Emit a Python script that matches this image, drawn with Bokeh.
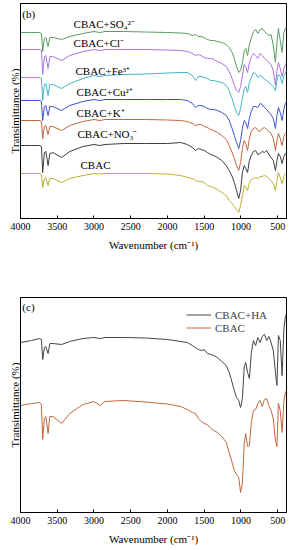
from bokeh.plotting import figure
from bokeh.layouts import column
from bokeh.models import Range1d, FixedTicker, Legend, LegendItem
from bokeh.core.properties import value
from bokeh.embed import file_html
from bokeh.resources import INLINE

# wavenumbers (cm-1)
wn = [4000, 3850, 3740, 3715, 3698, 3675, 3655, 3625, 3600, 3560,
      3440, 3330, 3150, 3000, 2920, 2850, 2600, 2300, 2000, 1820,
      1730, 1660, 1617, 1580, 1540, 1500, 1458, 1410, 1370, 1320,
      1260, 1200, 1160, 1120, 1090, 1060, 1030, 1005, 980, 955,
      935, 910, 885, 860, 830, 800, 770, 740, 710, 680,
      650, 620, 590, 560, 530, 510, 490, 465, 440, 415,
      395, 380]

# panel (b): transmittance (a.u., offset spectra)
t_so4 = [186, 186, 186, 185, 167, 180, 181, 172, 181, 181,
         179, 182, 185, 187, 186, 187, 187, 186.5, 186, 185.5,
         185, 183, 184, 182, 182, 181, 179, 178, 178, 177,
         176, 174, 171, 166, 160, 152, 146, 148, 156, 168,
         170, 163, 174, 180, 187, 189, 185, 189, 190, 187,
         185, 183, 184, 173, 156, 176, 190, 178, 166, 186,
         190, 191]
t_cl = [169, 169, 169, 168, 144, 162, 163, 150, 162, 162,
        158, 163, 167, 169, 168, 169, 169, 169, 168.5, 168,
        167, 165, 163, 164, 163, 161, 160, 160, 159, 157,
        155, 152, 147, 140, 133, 128, 126, 132, 143, 154,
        152, 146, 156, 161, 165, 163, 160, 165, 163, 160,
        158, 156, 154, 148, 133, 148, 156, 150, 142, 150,
        154, 156]
t_fe = [141, 141, 141, 140, 118, 134, 135, 123, 134, 134,
        130, 135, 140, 143, 142, 143, 144, 144.5, 145.5, 146,
        146, 143, 138, 142, 142, 141, 140, 138, 138, 137,
        136, 133, 128, 120, 112, 106, 103, 110, 120, 130,
        132, 126, 136, 141, 146, 145, 141, 143, 142, 139,
        138, 136, 134, 132, 128, 138, 144, 142, 135, 143,
        146, 148]
t_cu = [118, 118, 118, 117, 98, 112, 113, 103, 112, 112,
        108, 113, 117, 119, 118, 119, 119, 119, 119, 119,
        118, 115, 111, 113, 113, 112, 110, 109, 109, 108,
        106, 103, 98, 90, 83, 76, 70, 78, 90, 98,
        96, 90, 100, 107, 112, 112, 111, 115, 114, 111,
        109, 106, 104, 100, 90, 103, 111, 106, 98, 110,
        115, 117]
t_k = [98, 98, 98, 97, 80, 92, 93, 84, 92, 92,
       88, 93, 97, 99, 98, 99, 99, 99, 98.5, 98,
       97, 95, 93, 94, 94, 92, 91, 89, 88, 86,
       83, 79, 73, 66, 60, 53, 48, 56, 70, 78,
       75, 68, 80, 87, 90, 91, 88, 87, 90, 91,
       89, 87, 85, 80, 68, 78, 85, 80, 73, 82,
       85, 85]
t_no3 = [73, 73, 73, 72, 46, 66, 67, 53, 65, 66,
         61, 67, 72, 74, 73, 74, 75, 75, 75, 76,
         74, 71, 68, 70, 69, 68, 66, 64, 63, 61,
         58, 53, 48, 42, 36, 28, 20, 28, 46, 53,
         50, 46, 58, 63, 67, 68, 64, 65, 67, 66,
         68, 64, 61, 58, 48, 58, 65, 62, 55, 62,
         65, 65]
t_cbac = [45, 45, 45, 44, 31, 40, 41, 33, 40, 40,
          36, 40, 43, 45, 44.5, 45, 45, 45, 44.5, 43,
          41, 40, 38, 37, 37, 36, 33, 32, 31, 29,
          26, 23, 18, 15, 12, 9, 6, 13, 23, 33,
          31, 28, 36, 39, 40, 41, 40, 42, 42, 43,
          42, 40, 38, 35, 28, 38, 46, 41, 35, 42,
          45, 45]

# panel (c)
t_ha = [170, 172, 174, 173, 153, 165, 166, 159, 169, 169,
        168, 171, 174, 175, 174, 175, 175, 174.5, 173, 171,
        170, 167, 165, 163, 162, 163, 159, 158, 157, 155,
        151, 147, 140, 130, 122, 115, 112, 105, 114, 146,
        150, 140, 134, 159, 172, 167, 175, 170, 176, 178,
        172, 176, 170, 162, 140, 127, 177, 172, 137, 184,
        196, 199]
t_cbac2 = [107, 109, 110, 108, 73, 94, 96, 79, 96, 96,
           89, 99, 108, 111, 107, 111, 112, 110.5, 108.5, 106,
           103, 100, 99, 94, 91, 89, 88, 84, 82, 80,
           76, 70, 60, 50, 42, 38, 35, 20, 30, 69,
           79, 66, 67, 89, 102, 103, 109, 112, 106, 113,
           114, 107, 102, 94, 72, 66, 109, 102, 80, 112,
           120, 122]

x_ticks = [4000, 3500, 3000, 2500, 2000, 1500, 1000, 500]

series_b = [t_so4, t_cl, t_fe, t_cu, t_k, t_no3, t_cbac]
colors_b = ["#5b9b63", "#a774dd", "#45b5c8", "#3f51c9", "#c4653f", "#3d3d3d", "#b9b033"]
labels_b = ["CBAC+SO\u2084\u00b2\u207b", "CBAC+Cl\u207b", "CBAC+Fe\u00b3\u207a",
            "CBAC+Cu\u00b2\u207a", "CBAC+K\u207a", "CBAC+NO\u2083\u207b", "CBAC"]
label_x = [3278, 3278, 3251, 3237, 3237, 3224, 3183]
label_y = [195, 176, 148, 127, 106, 85, 54]

SERIF = "Liberation Serif"


def style(p, title_std, lab_std):
    p.xgrid.visible = False
    p.ygrid.visible = False
    p.outline_line_color = "black"
    p.outline_line_width = 1
    p.background_fill_color = "white"
    p.xaxis.ticker = FixedTicker(ticks=x_ticks)
    p.xaxis.major_tick_in = 3
    p.xaxis.major_tick_out = 0
    p.xaxis.minor_tick_line_color = None
    p.xaxis.axis_line_color = "black"
    p.xaxis.major_tick_line_color = "black"
    p.xaxis.major_label_text_font = SERIF
    p.xaxis.major_label_text_font_size = "10px"
    p.xaxis.major_label_text_color = "black"
    p.xaxis.major_label_standoff = lab_std
    p.xaxis.axis_label = "Wavenumber (cm\u207b\u00b9)"
    p.xaxis.axis_label_text_font = SERIF
    p.xaxis.axis_label_text_font_size = "11px"
    p.xaxis.axis_label_text_font_style = "normal"
    p.xaxis.axis_label_text_color = "black"
    p.xaxis.axis_label_standoff = title_std
    p.yaxis.ticker = FixedTicker(ticks=[])
    p.yaxis.major_tick_line_color = None
    p.yaxis.minor_tick_line_color = None
    p.yaxis.major_tick_out = 0
    p.yaxis.major_label_standoff = 0
    p.yaxis.axis_line_color = "black"
    p.yaxis.axis_label = "Transimittance (%)"
    p.yaxis.axis_label_text_font = SERIF
    p.yaxis.axis_label_text_font_size = "11px"
    p.yaxis.axis_label_text_font_style = "normal"
    p.yaxis.axis_label_text_color = "black"
    p.yaxis.axis_label_standoff = 0


p1 = figure(frame_width=266, frame_height=215, x_range=Range1d(4000, 380),
            y_range=Range1d(0, 215), output_backend="svg", toolbar_location=None,
            min_border_left=20, min_border_right=8, min_border_top=3,
            min_border_bottom=78)
style(p1, 6, 4)
for ys, c in zip(series_b, colors_b):
    p1.line(wn, ys, line_color=c, line_width=1)
p1.text(x=label_x, y=label_y, text=labels_b, text_font=value(SERIF),
        text_font_size="11px", text_baseline="middle", text_align="left",
        text_color="black")
p1.text(x=[3975], y=[204.5], text=["(b)"], text_font=value(SERIF),
        text_font_size="11px", text_baseline="middle", text_align="left",
        text_color="black")

p2 = figure(frame_width=266, frame_height=215, x_range=Range1d(4000, 380),
            y_range=Range1d(0, 215), output_backend="svg", toolbar_location=None,
            min_border_left=20, min_border_right=8, min_border_top=1,
            min_border_bottom=38)
style(p2, 6, 4)
r_ha = p2.line(wn, t_ha, line_color="#454545", line_width=1)
r_cb = p2.line(wn, t_cbac2, line_color="#c4653f", line_width=1)
p2.text(x=[3975], y=[206], text=["(c)"], text_font=value(SERIF),
        text_font_size="11px", text_baseline="middle", text_align="left",
        text_color="black")
legend = Legend(items=[LegendItem(label="CBAC+HA", renderers=[r_ha]),
                       LegendItem(label="CBAC", renderers=[r_cb])],
                location=(166, 178), border_line_color=None,
                background_fill_alpha=0, label_text_font=SERIF,
                label_text_font_size="11px", glyph_width=25, glyph_height=13,
                label_height=13, spacing=0, padding=2, margin=0,
                label_standoff=4)
p2.add_layout(legend)

layout = column(p1, p2, spacing=0)
open("out.html", "w").write(file_html(layout, INLINE))
